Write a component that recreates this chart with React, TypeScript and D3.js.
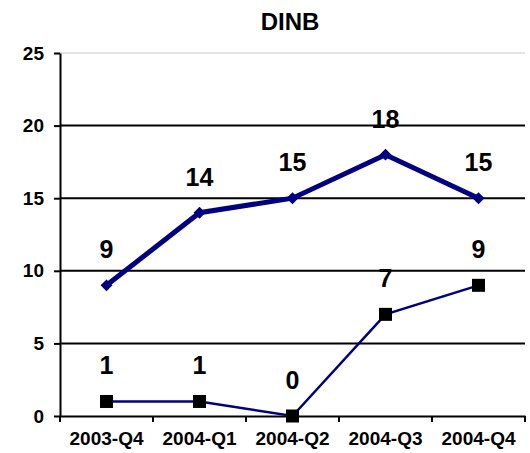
import React, { useRef, useEffect } from "react";
import * as d3 from "d3";

const categories = ["2003-Q4", "2004-Q1", "2004-Q2", "2004-Q3", "2004-Q4"];
const seriesA = [9, 14, 15, 18, 15];
const seriesB = [1, 1, 0, 7, 9];
const yTicks = [0, 5, 10, 15, 20, 25];

const App = () => {
  const ref = useRef<SVGSVGElement>(null);

  useEffect(() => {
    const svg = d3.select(ref.current);
    svg.selectAll("*").remove();
    const width = 530;
    const height = 453;
    const margin = { top: 53, right: 5, bottom: 37, left: 60 };
    const font = "Arial, 'Liberation Sans', sans-serif";

    const x = d3
      .scaleBand<string>()
      .domain(categories)
      .range([margin.left, width - margin.right]);
    const y = d3
      .scaleLinear()
      .domain([0, 25])
      .range([height - margin.bottom, margin.top]);
    const cx = (c: string) => (x(c) as number) + x.bandwidth() / 2;

    // title
    svg
      .append("text")
      .attr("x", 290)
      .attr("y", 30)
      .attr("text-anchor", "middle")
      .attr("font-family", font)
      .attr("font-weight", "bold")
      .attr("font-size", 24)
      .text("DINB");

    // gridlines
    svg
      .append("g")
      .selectAll("line")
      .data(yTicks.filter((d) => d > 0))
      .join("line")
      .attr("x1", margin.left)
      .attr("x2", width - margin.right)
      .attr("y1", (d) => y(d))
      .attr("y2", (d) => y(d))
      .attr("stroke", (d) => (d === 25 ? "#c8c8c8" : "#000"))
      .attr("stroke-width", (d) => (d === 25 ? 1 : 2));

    // y axis
    const yAxis = d3
      .axisLeft(y)
      .tickValues(yTicks)
      .tickSize(6)
      .tickSizeOuter(0)
      .tickPadding(10);
    const yg = svg
      .append("g")
      .attr("transform", `translate(${margin.left},0)`)
      .call(yAxis);
    yg.select(".domain").attr("stroke", "#000").attr("stroke-width", 2);
    yg.selectAll(".tick line").attr("stroke", "#000").attr("stroke-width", 2);
    yg.selectAll("text")
      .attr("font-family", font)
      .attr("font-weight", "bold")
      .attr("font-size", 19)
      .attr("fill", "#000");

    // x axis
    const xAxis = d3.axisBottom(x).tickSize(0).tickPadding(16);
    const xg = svg
      .append("g")
      .attr("transform", `translate(0,${y(0)})`)
      .call(xAxis);
    xg.select(".domain").attr("stroke", "#000").attr("stroke-width", 2);
    xg.selectAll("text")
      .attr("font-family", font)
      .attr("font-weight", "bold")
      .attr("font-size", 19)
      .attr("fill", "#000");
    // tick marks at category boundaries
    const bounds = categories.map((c) => x(c) as number).concat([width - margin.right]);
    xg.selectAll(".bound")
      .data(bounds)
      .join("line")
      .attr("class", "bound")
      .attr("x1", (d) => d)
      .attr("x2", (d) => d)
      .attr("y1", 0)
      .attr("y2", 6)
      .attr("stroke", "#000")
      .attr("stroke-width", 2);

    const line = d3
      .line<number>()
      .x((_, i) => cx(categories[i]))
      .y((d) => y(d));

    // series B (thin, squares)
    svg
      .append("path")
      .datum(seriesB)
      .attr("fill", "none")
      .attr("stroke", "#000080")
      .attr("stroke-width", 2.5)
      .attr("d", line);
    svg
      .append("g")
      .selectAll("rect")
      .data(seriesB)
      .join("rect")
      .attr("x", (_, i) => cx(categories[i]) - 6.5)
      .attr("y", (d) => y(d) - 6.5)
      .attr("width", 13)
      .attr("height", 13)
      .attr("fill", "#000");

    // series A (thick, diamonds)
    svg
      .append("path")
      .datum(seriesA)
      .attr("fill", "none")
      .attr("stroke", "#000080")
      .attr("stroke-width", 5)
      .attr("d", line);
    svg
      .append("g")
      .selectAll("path")
      .data(seriesA)
      .join("path")
      .attr("transform", (d, i) => `translate(${cx(categories[i])},${y(d)})`)
      .attr("d", d3.symbol().type(d3.symbolDiamond2).size(90))
      .attr("fill", "#000080");

    // data labels
    const labels = (vals: number[]) =>
      svg
        .append("g")
        .selectAll("text")
        .data(vals)
        .join("text")
        .attr("x", (_, i) => cx(categories[i]))
        .attr("y", (d) => y(d) - 27)
        .attr("text-anchor", "middle")
        .attr("font-family", font)
        .attr("font-weight", "bold")
        .attr("font-size", 25)
        .attr("fill", "#000")
        .text((d) => d);
    labels(seriesA);
    labels(seriesB);
  }, []);

  return (
    <svg
      ref={ref}
      width={530}
      height={453}
      style={{ display: "block", position: "absolute", left: 0, top: 0, background: "#fff" }}
    />
  );
};

export default App;
